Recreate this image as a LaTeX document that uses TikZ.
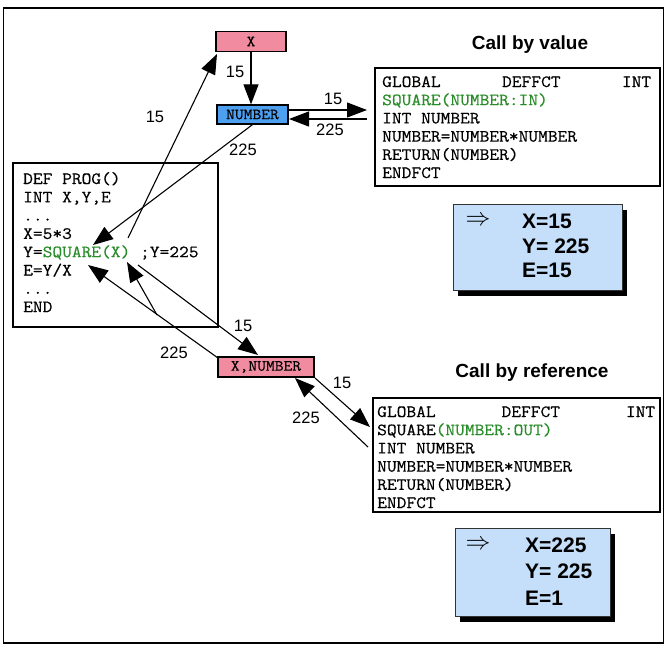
\documentclass[tikz,border=0pt]{standalone}
\usepackage{fontspec}
\setmainfont{Liberation Sans}
\setmonofont[FakeStretch=1.1,FakeBold=0.4]{Latin Modern Mono}
\usetikzlibrary{arrows.meta}
\definecolor{pinkfill}{RGB}{241,139,160}
\definecolor{bluefill}{RGB}{77,160,240}
\definecolor{resfill}{RGB}{197,222,250}
\definecolor{codegreen}{RGB}{40,140,40}
\begin{document}
\begin{tikzpicture}[x=1pt,y=-1pt,
  code/.style={anchor=base west,inner sep=0pt,font=\ttfamily\fontsize{17.2}{18}\selectfont},
  lbl/.style={inner sep=0pt,font=\fontsize{16.5}{16.5}\selectfont},
  titletext/.style={inner sep=0pt,font=\bfseries\fontsize{19}{19}\selectfont},
  restext/.style={anchor=west,inner sep=0pt,font=\bfseries\fontsize{21}{21}\selectfont},
  arrowtext/.style={inner sep=0pt,font=\fontsize{26}{26}\selectfont},
  codebox/.style={draw,line width=1.2pt,inner sep=0pt},
  resbox/.style={draw=black!80,line width=0.8pt,fill=resfill,inner sep=0pt},
  varbox/.style={draw,line width=1.2pt,inner sep=0pt,font=\ttfamily\fontsize{15.5}{15.5}\selectfont},
  conn/.style={line width=1.1pt,-{Triangle[length=20pt,width=15pt]}},
]
\useasboundingbox (0,0) rectangle (669,651);
% outer frame
\draw[line width=1.3pt] (3.5,8) rectangle (663.5,643);

% variable boxes
\node[varbox,fill=pinkfill,minimum width=70,minimum height=20] (X) at (251,41.5) {X};
\node[varbox,fill=bluefill,minimum width=71,minimum height=19] (NUM) at (252.5,114.5) {NUMBER};
\node[varbox,fill=pinkfill,minimum width=96,minimum height=20] (XNUM) at (266,367) {X,NUMBER};

% code boxes
\node[codebox,minimum width=205,minimum height=164] (PROG) at (115.5,245) {};
\node[codebox,minimum width=285,minimum height=118] (CBV) at (517.5,127) {};
\node[codebox,minimum width=287,minimum height=114] (CBR) at (516.5,455) {};

% titles
\node[titletext] (tv) at (530,45) {Call by value};
\node[titletext] (tr) at (532,373) {Call by reference};

% program text
\node[code] (p1) at (23,184) {DEF PROG()};
\node[code] (p2) at (23,202.3) {INT X,Y,E};
\node[code] (p3) at (23,220.6) {...};
\node[code] (p4) at (23,238.9) {X=5*3};
\node[code] (p5) at (23,257.2) {Y=\textcolor{codegreen}{SQUARE(X)} ;Y=225};
\node[code] (p6) at (23,275.5) {E=Y/X};
\node[code] (p7) at (23,293.8) {...};
\node[code] (p8) at (23,312.1) {END};

% call by value text
\node[code] (v1) at (382,87) {\makebox[269pt][l]{GLOBAL\hfill DEFFCT\hfill INT}};
\node[code] (v2) at (382,105.2) {\textcolor{codegreen}{SQUARE(NUMBER:IN)}};
\node[code] (v3) at (382,123.4) {INT NUMBER};
\node[code] (v4) at (382,141.6) {NUMBER=NUMBER*NUMBER};
\node[code] (v5) at (382,159.8) {RETURN(NUMBER)};
\node[code] (v6) at (382,178) {ENDFCT};

% call by reference text
\node[code] (r1) at (377,417) {\makebox[278pt][l]{GLOBAL\hfill DEFFCT\hfill INT}};
\node[code] (r2) at (377,435.2) {SQUARE\textcolor{codegreen}{(NUMBER:OUT)}};
\node[code] (r3) at (377,453.4) {INT NUMBER};
\node[code] (r4) at (377,471.6) {NUMBER=NUMBER*NUMBER};
\node[code] (r5) at (377,489.8) {RETURN(NUMBER)};
\node[code] (r6) at (377,508) {ENDFCT};

% result boxes
\fill[black] (458,210) rectangle (627,296);
\node[resbox,minimum width=169,minimum height=86] (RES1) at (537.5,247) {};
\node[arrowtext] (ra1) at (478,221) {$\Rightarrow$};
\node[restext] (rx1) at (522,221) {X=15};
\node[restext] (ry1) at (522,246) {Y= 225};
\node[restext] (re1) at (522,270) {E=15};

\fill[black] (460,534) rectangle (615,622);
\node[resbox,minimum width=155,minimum height=88] (RES2) at (532.5,572) {};
\node[arrowtext] (ra2) at (478,545) {$\Rightarrow$};
\node[restext] (rx2) at (525,545) {X=225};
\node[restext] (ry2) at (525,571) {Y= 225};
\node[restext] (re2) at (525,598) {E=1};

% connector end points
\coordinate (sqxTop) at (128,238);
\coordinate (xTip) at (217,54);
\coordinate (sqIn) at (93,245);
\coordinate (nv1) at (288,110);
\coordinate (cv1) at (367,110);
\coordinate (cv2) at (367,119);
\coordinate (nv2) at (289,119);
\coordinate (sqxRight) at (138,265);
\coordinate (xnTop) at (258,355);
\coordinate (xnLeft) at (218,358);
\coordinate (eyIn) at (88,265);
\coordinate (branch) at (157,315);
\coordinate (sqxBot) at (127,262);
\coordinate (xnBR) at (315,378);
\coordinate (crIn) at (370,427);
\coordinate (crOut) at (368,447);
\coordinate (xnBot) at (295,378);

% connectors
\draw[conn] (X.south) -- (X.south |- NUM.north);
\draw[conn] (sqxTop) -- (xTip);
\draw[conn] (NUM.south) -- (sqIn);
\draw[conn] (nv1) -- (cv1);
\draw[conn] (cv2) -- (nv2);
\draw[conn] (sqxRight) -- (xnTop);
\draw[conn] (xnLeft) -- (eyIn);
\draw[conn] (branch) -- (sqxBot);
\draw[conn] (xnBR) -- (crIn);
\draw[conn] (crOut) -- (xnBot);

% labels
\node[lbl] (l1) at (235,72) {15};
\node[lbl] (l2) at (333,99) {15};
\node[lbl] (l3) at (330,130) {225};
\node[lbl] (l4) at (155,117) {15};
\node[lbl] (l5) at (243,150) {225};
\node[lbl] (l6) at (243,326) {15};
\node[lbl] (l7) at (174,353) {225};
\node[lbl] (l8) at (342,383) {15};
\node[lbl] (l9) at (306,418) {225};
\end{tikzpicture}
\end{document}
